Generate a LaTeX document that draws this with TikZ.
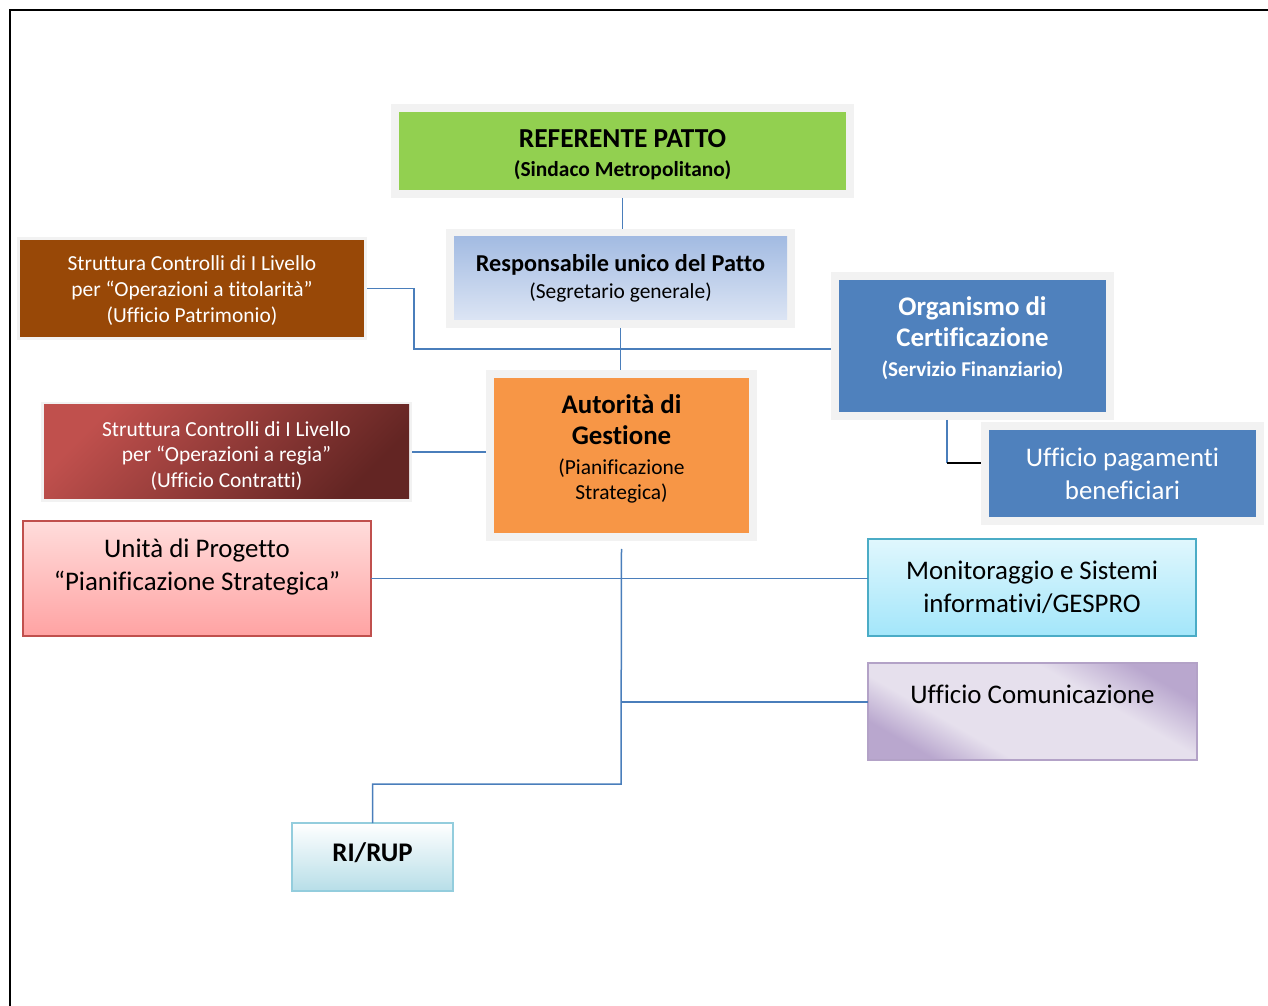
\documentclass[tikz,border=0pt]{standalone}
\usepackage{fontspec}
\setmainfont{Carlito}[Ligatures=NoCommon]
\usetikzlibrary{fit}
\usetikzlibrary{backgrounds}
\definecolor{linkblue}{HTML}{4A7EBB}
\definecolor{framegrey}{HTML}{F2F2F2}
\definecolor{refgreen}{HTML}{92D050}
\definecolor{rupblueA}{HTML}{A3BBE2}
\definecolor{rupblueB}{HTML}{DCE5F4}
\definecolor{brownbox}{HTML}{984807}
\definecolor{orangebox}{HTML}{F79646}
\definecolor{redA}{HTML}{C0504D}
\definecolor{redB}{HTML}{632523}
\definecolor{bluebox}{HTML}{4F81BD}
\definecolor{pinkA}{HTML}{FFDCDB}
\definecolor{pinkB}{HTML}{FFA3A3}
\definecolor{cyanA}{HTML}{E0F7FD}
\definecolor{cyanB}{HTML}{A3E6FA}
\definecolor{cyanline}{HTML}{4BACC6}
\definecolor{lilacA}{HTML}{E6E0ED}
\definecolor{lilacB}{HTML}{B9A7CE}
\definecolor{lilacline}{HTML}{B3A2C7}
\definecolor{riB}{HTML}{B7DEE8}
\definecolor{riline}{HTML}{93CDDD}
\newdimen\pxu \pxu=0.02cm
\newcommand\fs[2]{\fontsize{#1}{#2}\selectfont}
\newcommand\bottomgap[1]{\rule[-#1]{0pt}{#1}}
\newcommand\topgap[1]{\rule{0pt}{#1}}
\pgfdeclareverticalshading{lilacfade}{100bp}{color(0bp)=(lilacB); color(25bp)=(lilacB);
  color(36bp)=(lilacA); color(62bp)=(lilacA); color(75bp)=(lilacB); color(100bp)=(lilacB)}

\begin{document}
\begin{tikzpicture}[x=0.02cm,y=-0.02cm,
  box/.style={draw=none,align=center,inner sep=2pt,outer sep=0pt},
  frame/.style={fill=framegrey,draw=none,inner sep=8\pxu,outer sep=0pt},
  link/.style={linkblue,line width=1.5\pxu}]
\useasboundingbox (0,0) rectangle (1268,1006);

% page border
\draw [line width=2\pxu] (10,1006) -- (10,10) -- (1268,10);

% boxes
\node [box,fill=refgreen,font=\fs{15.6}{16}\bfseries,minimum width=447\pxu,minimum height=78\pxu] (ref) at (622.5,151)
  {\topgap{14.5pt}REFERENTE PATTO\\\fs{12.2}{16}\bfseries(Sindaco Metropolitano)};
\node [box,top color=rupblueA,bottom color=rupblueB,font=\fs{13.8}{15.3},minimum width=333\pxu,minimum height=83\pxu] (rup) at (620.5,278.5)
  {\bfseries Responsabile unico del Patto\\\fs{12.2}{15.3}(Segretario generale)};
\node [box,fill=brownbox,text=white,font=\fs{12.2}{14.7},minimum width=344\pxu,minimum height=97\pxu] (sct) at (192,288.5)
  {\topgap{11pt}Struttura Controlli di I Livello\\per “Operazioni a titolarità”\\(Ufficio Patrimonio)};
\node [box,fill=bluebox,text=white,font=\fs{15.3}{18}\bfseries,minimum width=267\pxu,minimum height=132\pxu] (oc) at (972.5,346)
  {Organismo di\\Certificazione\\[-1pt]\fs{12}{18}\bfseries(Servizio Finanziario)\bottomgap{11pt}};
\node [box,fill=orangebox,font=\fs{15.3}{18},minimum width=255\pxu,minimum height=155\pxu] (ag) at (621.5,455.5)
  {\bfseries Autorità di\\\bfseries Gestione\\[-1pt]\fs{12.2}{18}(Pianificazione\\[-4pt]\fs{12.2}{18}Strategica)\bottomgap{10pt}};
\node [box,top color=redA,bottom color=redB,shading angle=45,text=white,font=\fs{12.2}{14.7},minimum width=365\pxu,minimum height=94\pxu] (scr) at (226.5,452)
  {\topgap{13pt}Struttura Controlli di I Livello\\per “Operazioni a regia”\\(Ufficio Contratti)};
\node [box,fill=bluebox,text=white,font=\fs{15.3}{18.7},minimum width=267\pxu,minimum height=87\pxu] (upb) at (1122.5,473.5)
  {Ufficio pagamenti\\beneficiari};
\node [box,draw=redA,line width=1.5\pxu,top color=pinkA,bottom color=pinkB,font=\fs{15.3}{18.7},minimum width=348\pxu,minimum height=115\pxu] (udp) at (197,578.5)
  {Unità di Progetto\\“Pianificazione Strategica”\bottomgap{16pt}};
\node [box,draw=cyanline,line width=1.5\pxu,top color=cyanA,bottom color=cyanB,font=\fs{15.3}{18.7},minimum width=328\pxu,minimum height=97\pxu] (mon) at (1032,587.5)
  {Monitoraggio e Sistemi\\informativi/GESPRO};
\node [box,draw=lilacline,line width=1.5\pxu,shading=lilacfade,shading angle=-30,font=\fs{15.3}{18.7},minimum width=329\pxu,minimum height=97\pxu] (ucom) at (1032.5,711.5)
  {Ufficio Comunicazione\bottomgap{20pt}};
\node [box,draw=riline,line width=2\pxu,top color=white,bottom color=riB,font=\fs{15.3}{17}\bfseries,minimum width=161\pxu,minimum height=68\pxu] (rirup) at (372.5,857)
  {RI/RUP\bottomgap{6pt}};

% grey frames
\begin{scope}[on background layer]
\node [frame,fit=(ref)] (refF) {};
\node [frame,fit=(rup)] (rupF) {};
\node [frame,fit=(sct),inner sep=3\pxu] (sctF) {};
\node [frame,fit=(oc)] (ocF) {};
\node [frame,fit=(ag)] (agF) {};
\node [frame,fit=(scr),inner sep=3\pxu] (scrF) {};
\node [frame,fit=(upb)] (upbF) {};
\end{scope}

% connectors
\coordinate (j1) at (414,349);
\coordinate (j2) at (947,463);
\coordinate (j3) at (621,702);
\coordinate (t) at (621,784);
\draw [link] (refF.south) -- (refF.south |- rupF.north);
\draw [link] (rupF.south) -- (rupF.south |- agF.north);
\draw [link] (sctF.east) -| (j1) -- (j1 -| ocF.west);
\draw [link] (scrF.east) -- (scrF.east -| agF.west);
\draw [link] (j2 |- ocF.south) -- (j2);
\draw [line width=1.5\pxu] (j2) -- (j2 -| upbF.west);
\draw [link] ([yshift=-8\pxu]agF.south) -- (t) -| (rirup.north);
\draw [link] (udp.east) -- (udp.east -| mon.west);
\draw [link] (j3) -- (j3 -| ucom.west);

\end{tikzpicture}
\end{document}
